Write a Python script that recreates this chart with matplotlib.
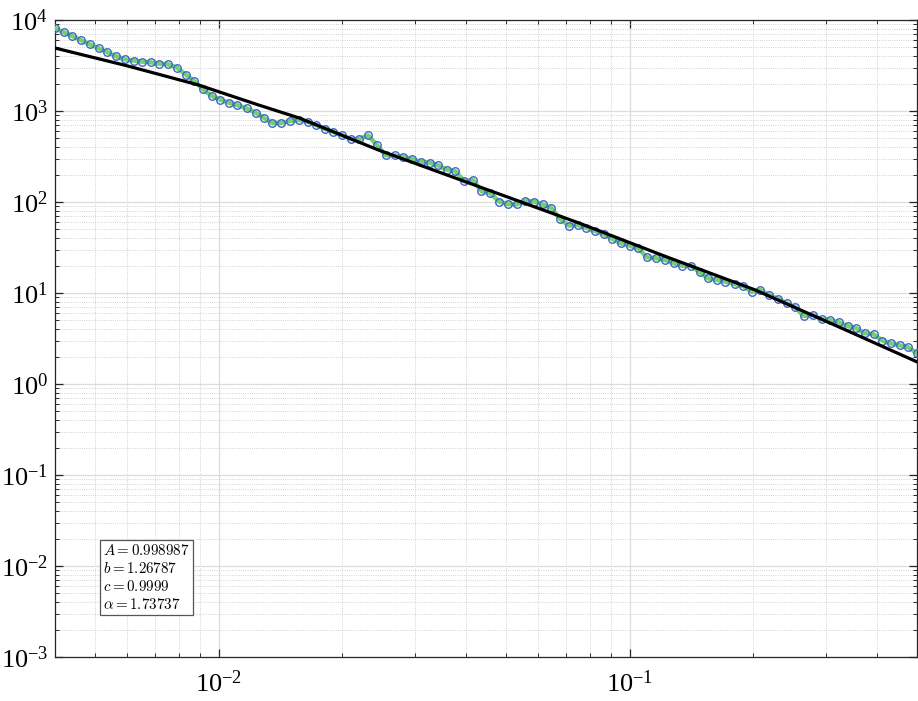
import matplotlib
matplotlib.use("Agg")
import matplotlib.pyplot as plt
from matplotlib.ticker import LogLocator, FixedLocator, NullFormatter

# ---- data (log-binned points) ----
x_data = [0.00400, 0.00420, 0.00441, 0.00463, 0.00486, 0.00511, 0.00536, 0.00563, 0.00591, 0.00621,
          0.00652, 0.00684, 0.00718, 0.00754, 0.00792, 0.00832, 0.00873, 0.00917, 0.00963, 0.0101,
          0.0106, 0.0111, 0.0117, 0.0123, 0.0129, 0.0135, 0.0142, 0.0149, 0.0157, 0.0165,
          0.0173, 0.0181, 0.0190, 0.0200, 0.0210, 0.0220, 0.0231, 0.0243, 0.0255, 0.0268,
          0.0281, 0.0295, 0.0310, 0.0326, 0.0342, 0.0359, 0.0377, 0.0396, 0.0416, 0.0436,
          0.0458, 0.0481, 0.0505, 0.0531, 0.0557, 0.0585, 0.0614, 0.0645, 0.0677, 0.0711,
          0.0747, 0.0784, 0.0823, 0.0864, 0.0908, 0.0953, 0.100, 0.105, 0.110, 0.116,
          0.122, 0.128, 0.134, 0.141, 0.148, 0.155, 0.163, 0.171, 0.180, 0.189,
          0.198, 0.208, 0.218, 0.229, 0.241, 0.253, 0.265, 0.279, 0.293, 0.307,
          0.323, 0.339, 0.356, 0.373, 0.392, 0.412, 0.432, 0.454, 0.476, 0.500]
y_data = [8110, 7330, 6670, 5980, 5410, 4890, 4420, 3990, 3700, 3570,
          3480, 3430, 3310, 3260, 2990, 2510, 2120, 1730, 1460, 1330,
          1230, 1160, 1070, 958, 838, 738, 738, 776, 796, 760,
          700, 640, 590, 540, 490, 490, 540, 420, 326, 326,
          313, 299, 277, 270, 253, 226, 217, 169, 175, 131,
          125, 101, 95, 94, 103, 101, 94, 86, 65, 55,
          56, 52, 48, 44.2, 39.2, 35.1, 33.1, 31.0, 24.7, 24.1,
          23.0, 21.2, 19.9, 19.9, 16.9, 14.5, 13.9, 13.3, 12.5, 11.9,
          10.3, 10.8, 9.51, 8.65, 7.71, 6.97, 5.58, 5.73, 5.14, 5.05,
          4.76, 4.34, 4.09, 3.61, 3.52, 2.99, 2.80, 2.66, 2.53, 2.17]

# fitted curve
x_fit = [0.004, 0.006, 0.00894, 0.0125, 0.0157, 0.0245, 0.04, 0.0753, 0.12, 0.202, 0.32, 0.5]
y_fit = [4920, 3130, 1930, 1165, 838, 372, 166, 58.7, 26.0, 10.8, 4.31, 1.75]

x_major = [0.01, 0.1]
y_major = [1e-3, 1e-2, 1e-1, 1e0, 1e1, 1e2, 1e3, 1e4]

fit_params = ["A = 0.998987", "b = 1.26787", "c = 0.9999", r"\alpha = 1.73737"]

# ---- style ----
plt.rcParams["font.family"] = ["Liberation Serif", "DejaVu Serif"]
plt.rcParams["mathtext.fontset"] = "stix"
plt.rcParams["axes.unicode_minus"] = False

fig = plt.figure(figsize=(9.18, 7.01), dpi=100)
ax = fig.add_axes([0.0599, 0.0628, 0.939, 0.9087])

ax.plot(x_data, y_data, color="#6fd16f", lw=3.2, zorder=3)
ax.plot(x_data, y_data, ls="none", marker="o", ms=5.4, mfc="none",
        mec="#4063c8", mew=1.0, zorder=4)
ax.plot(x_fit, y_fit, color="black", lw=2.3, zorder=5)

ax.set_xscale("log")
ax.set_yscale("log")
ax.set_xlim(0.004, 0.5)
ax.set_ylim(1e-3, 1e4)

ax.xaxis.set_major_locator(FixedLocator(x_major))
ax.yaxis.set_major_locator(FixedLocator(y_major))
ax.yaxis.set_minor_locator(LogLocator(base=10, subs=range(2, 10), numticks=20))
ax.yaxis.set_minor_formatter(NullFormatter())
ax.xaxis.set_minor_locator(LogLocator(base=10, subs=range(2, 10), numticks=20))
ax.xaxis.set_minor_formatter(NullFormatter())

ax.grid(True, which="major", color="#dcdcdc", lw=0.9, ls="-", zorder=0)
ax.grid(True, which="minor", color="#c4c4c4", lw=0.6, ls=":", zorder=0)
ax.set_axisbelow(True)

ax.tick_params(which="both", direction="in", top=True, right=True,
               color="#262626", labelsize=19)
ax.tick_params(axis="x", pad=10)
ax.tick_params(axis="y", pad=5)
ax.tick_params(which="major", length=6, width=0.9)
ax.tick_params(which="minor", length=3, width=0.7)
for s in ax.spines.values():
    s.set_color("#262626")
    s.set_linewidth(0.9)

txt = "\n".join("$" + p + "$" for p in fit_params)
ax.text(0.056, 0.179, txt, transform=ax.transAxes, ha="left", va="top",
        fontsize=10.8, math_fontfamily="cm", linespacing=1.25, zorder=6,
        bbox=dict(boxstyle="square,pad=0.2", fc="white", ec="#555555", lw=0.9))

fig.savefig("out.png", dpi=100)
